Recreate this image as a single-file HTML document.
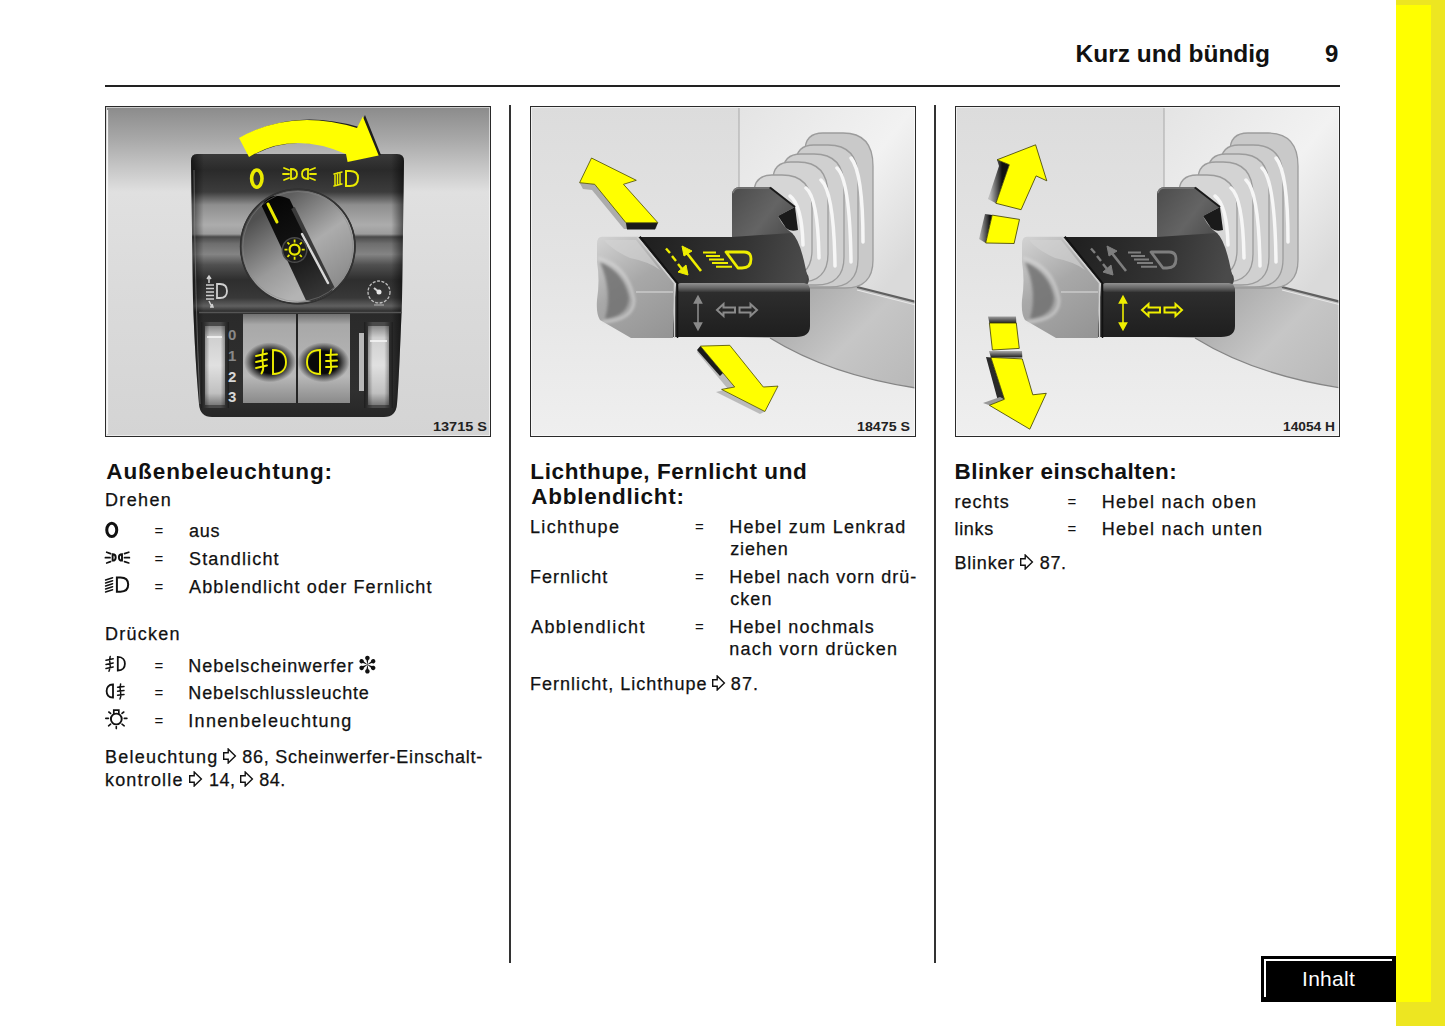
<!DOCTYPE html>
<html><head><meta charset="utf-8">
<style>
html,body{margin:0;padding:0;background:#fff;}
body{width:1445px;height:1026px;position:relative;overflow:hidden;font-family:"Liberation Sans",sans-serif;color:#111;}
.a{position:absolute;white-space:nowrap;}
.t{-webkit-text-stroke:0.25px #111;font-size:18px;letter-spacing:1.3px;line-height:22px;}
.h{font-size:22.5px;font-weight:bold;letter-spacing:0.8px;line-height:26px;}
.eq{font-size:15px;line-height:22px;}
.img{position:absolute;display:block;overflow:hidden;}
.ar{display:inline-block;vertical-align:-1px;}
.fr{position:absolute;border:1.5px solid #2a2a2a;box-sizing:border-box;box-shadow:inset 0 0 0 1px rgba(255,255,255,0.55);}
.vr{position:absolute;width:2px;background:#333;}
</style></head><body>
<div class="a" style="left:1396px;top:0;width:49px;height:1026px;background:#ede621"></div>
<div class="a" style="left:1396px;top:5px;width:35px;height:997px;background:#ffff00"></div>
<div class="a" style="left:1075.5px;top:40px;font-size:24.5px;font-weight:bold;line-height:28px;letter-spacing:0px">Kurz und bündig</div>
<div class="a" style="left:1325px;top:40px;font-size:24px;font-weight:bold;line-height:28px;">9</div>
<div class="a" style="left:105px;top:85px;width:1235px;height:1.5px;background:#222"></div>
<div class="vr" style="left:509px;top:105px;height:858px"></div>
<div class="vr" style="left:934px;top:105px;height:858px"></div>
<svg class="img" style="left:105px;top:106px" width="386" height="331" viewBox="105 106 386 331">
<defs>
 <linearGradient id="bg1" gradientUnits="userSpaceOnUse" x1="0" y1="106" x2="0" y2="437">
  <stop offset="0" stop-color="#8a8a8a"/>
  <stop offset="0.10" stop-color="#a8a8a8"/>
  <stop offset="0.26" stop-color="#e0e0e0"/>
  <stop offset="0.60" stop-color="#dadada"/>
  <stop offset="1" stop-color="#d4d4d4"/>
 </linearGradient>
 <linearGradient id="pan1" gradientUnits="userSpaceOnUse" x1="0" y1="154" x2="0" y2="418">
  <stop offset="0" stop-color="#3a3a3a"/>
  <stop offset="0.06" stop-color="#2a2a2a"/>
  <stop offset="0.144" stop-color="#3c3c3c"/>
  <stop offset="0.193" stop-color="#8e8e8e"/>
  <stop offset="0.269" stop-color="#acacac"/>
  <stop offset="0.303" stop-color="#9c9c9c"/>
  <stop offset="0.314" stop-color="#4a4a4a"/>
  <stop offset="0.34" stop-color="#6e6e6e"/>
  <stop offset="0.38" stop-color="#848484"/>
  <stop offset="0.42" stop-color="#505050"/>
  <stop offset="0.477" stop-color="#2e2e2e"/>
  <stop offset="0.545" stop-color="#383838"/>
  <stop offset="0.576" stop-color="#606060"/>
  <stop offset="0.598" stop-color="#2a2a2a"/>
  <stop offset="0.9" stop-color="#303030"/>
  <stop offset="1" stop-color="#262626"/>
 </linearGradient>
 <linearGradient id="cyl1" x1="0" y1="0" x2="1" y2="0">
  <stop offset="0" stop-color="#000" stop-opacity="0.6"/>
  <stop offset="0.3" stop-color="#000" stop-opacity="0"/>
  <stop offset="0.7" stop-color="#000" stop-opacity="0"/>
  <stop offset="1" stop-color="#000" stop-opacity="0.6"/>
 </linearGradient>
 <linearGradient id="pedge1" gradientUnits="userSpaceOnUse" x1="191" y1="0" x2="404" y2="0">
  <stop offset="0" stop-color="#000" stop-opacity="0.55"/>
  <stop offset="0.06" stop-color="#000" stop-opacity="0"/>
  <stop offset="0.94" stop-color="#000" stop-opacity="0"/>
  <stop offset="1" stop-color="#000" stop-opacity="0.55"/>
 </linearGradient>
 <linearGradient id="kUR" gradientUnits="userSpaceOnUse" x1="290" y1="195" x2="350" y2="280">
  <stop offset="0" stop-color="#5e5e5e"/>
  <stop offset="0.5" stop-color="#acacac"/>
  <stop offset="1" stop-color="#8a8a8a"/>
 </linearGradient>
 <linearGradient id="kLL" gradientUnits="userSpaceOnUse" x1="240" y1="230" x2="290" y2="300">
  <stop offset="0" stop-color="#505050"/>
  <stop offset="0.6" stop-color="#9a9a9a"/>
  <stop offset="1" stop-color="#b4b4b4"/>
 </linearGradient>
 <linearGradient id="slot1" gradientUnits="userSpaceOnUse" x1="270" y1="200" x2="325" y2="300">
  <stop offset="0" stop-color="#050505"/>
  <stop offset="0.5" stop-color="#151515"/>
  <stop offset="1" stop-color="#3a3a3a"/>
 </linearGradient>
 <linearGradient id="btn1" gradientUnits="userSpaceOnUse" x1="0" y1="314" x2="0" y2="403">
  <stop offset="0" stop-color="#707070"/>
  <stop offset="0.12" stop-color="#a8a8a8"/>
  <stop offset="0.7" stop-color="#b8b8b8"/>
  <stop offset="1" stop-color="#8a8a8a"/>
 </linearGradient>
 <linearGradient id="whl1" gradientUnits="userSpaceOnUse" x1="0" y1="326" x2="0" y2="405">
  <stop offset="0" stop-color="#8a8a8a"/>
  <stop offset="0.15" stop-color="#d0d0d0"/>
  <stop offset="0.5" stop-color="#e0e0e0"/>
  <stop offset="0.85" stop-color="#c0c0c0"/>
  <stop offset="1" stop-color="#7a7a7a"/>
 </linearGradient>
 <radialGradient id="oval1">
  <stop offset="0.55" stop-color="#080808"/>
  <stop offset="1" stop-color="#080808" stop-opacity="0"/>
 </radialGradient>
 <clipPath id="kclip"><circle cx="297.8" cy="246.5" r="56.5"/></clipPath>
</defs>
<rect x="105" y="106" width="386" height="331" fill="url(#bg1)"/>
<line x1="107.5" y1="110" x2="107.5" y2="434" stroke="#f4f4f4" stroke-width="1.2"/>
<!-- panel -->
<path d="M197,154 H397 Q404,154 404,161 L402,300 Q399,380 397,404 Q396,417 384,417 H212 Q200,417 199,404 Q195,360 193,300 L191,161 Q191,154 197,154 Z" fill="url(#pan1)"/>
<path d="M197,154 H397 Q404,154 404,161 L402,300 Q399,380 397,404 Q396,417 384,417 H212 Q200,417 199,404 Q195,360 193,300 L191,161 Q191,154 197,154 Z" fill="url(#pedge1)"/>
<path d="M194,170 Q195,300 200,404" fill="none" stroke="#888" stroke-width="1" opacity="0.6"/>
<!-- yellow arc arrow -->
<path d="M242,137 Q294,108 359,127 L365,115 L381,155 L349,161 L349,153 Q297,131 251,156 Z" fill="#1e1e1e"/>
<path d="M239,138 Q292,108 357,128 L362.8,116.4 L378.7,155.6 L347.6,162 L346,154 Q292.5,130.5 249,157 Z" fill="#ffff00"/>
<!-- top symbols -->
<ellipse cx="256.8" cy="178.6" rx="5.2" ry="8.6" fill="none" stroke="#eaea00" stroke-width="3.6"/>
<g stroke="#eaea00" stroke-width="1.8" fill="none" stroke-linecap="round">
 <path d="M284,168 L289,170 M283,174 L289,174 M284,180 L289,178"/>
 <path d="M291,169 Q297,169 297,174 Q297,179 291,179 Z"/>
 <path d="M308,169 Q302,169 302,174 Q302,179 308,179 Z"/>
 <path d="M310,170 L315,168 M310,174 L316,174 M310,178 L315,180"/>
 <path d="M346,171 H350 Q358,171 358,178 Q358,186 350,186 H346 Z" stroke-width="2"/>
 <path d="M334,174 L342,172 M334,186 L342,184 M335,185 V174 M337.5,185 V173 M340,184 V172.5" stroke-width="1.5"/>
</g>
<!-- knob -->
<circle cx="297.8" cy="246.5" r="58" fill="#2e2e2e"/>
<g clip-path="url(#kclip)">
 <rect x="230" y="180" width="140" height="140" fill="url(#kUR)"/>
 <path d="M230,200 L261.7,205.9 L306,300.3 L230,320 Z" fill="url(#kLL)"/>
 <path d="M261.7,205.9 Q268,190 289.5,198.9 L332.6,286.4 Q334,305 306,300.3 Z" fill="url(#slot1)"/>
 <path d="M293,208 L333,289" stroke="#3a3a3a" stroke-width="4"/>
 <path d="M302,234 L328,283" stroke="#d8d8d8" stroke-width="2.5" stroke-linecap="round"/>
 <circle cx="294.6" cy="250" r="13" fill="#4a4a4a"/>
 <circle cx="294.6" cy="250" r="11.5" fill="#1c1c1c"/>
</g>
<circle cx="297.8" cy="246.5" r="57" fill="none" stroke="#333" stroke-width="1.5"/>
<circle cx="297.8" cy="246.5" r="55" fill="none" stroke="#888" stroke-width="0.8" opacity="0.6"/>
<path d="M268,204 L277,222" stroke="#eaea00" stroke-width="3" stroke-linecap="round"/>
<g stroke="#e8e800" fill="none">
 <circle cx="294.6" cy="249.6" r="5" fill="#111" stroke-width="2.2"/>
 <path d="M294.6,239.5 v3 M294.6,256.7 v3 M284.5,249.6 h3 M301.7,249.6 h3 M287.4,242.4 l2,2 M299.8,254.8 l2,2 M287.4,256.8 l2,-2 M299.8,244.4 l2,-2" stroke-width="1.8"/>
</g>
<!-- side symbols -->
<g stroke="#d0d0d0" stroke-width="1.5" fill="none">
 <path d="M217,284 H220 Q227,284 227,291 Q227,298 220,298 H217 Z" stroke-width="1.8"/>
 <path d="M206,285 h8 M206,288.5 h8 M206,292 h8 M206,295.5 h8 M206,299 h8" stroke-width="1.6"/>
 <path d="M209,283 v-7 M207,279 l2,-3 l2,3 M209,301 l3,6 M210,307 l3,0 l-1,-3" />
 <circle cx="379" cy="292" r="11" stroke="#c0c0c0" stroke-width="1.3" stroke-dasharray="3 1.5"/>
 <path d="M379,292 l-5,-4" stroke="#d0d0d0" stroke-width="2"/>
 <circle cx="379" cy="292" r="2.5" fill="#e8e8e8" stroke="none"/>
 <path d="M374,305 h10" stroke="#888" stroke-width="2"/>
</g>
<!-- lower section -->
<path d="M199,312.5 H402" stroke="#555" stroke-width="1.5"/>
<rect x="243" y="314" width="53" height="89" fill="url(#btn1)"/>
<rect x="298" y="314" width="52" height="89" fill="url(#btn1)"/>
<line x1="297" y1="314" x2="297" y2="403" stroke="#222" stroke-width="1.5"/>
<ellipse cx="270" cy="362.3" rx="26" ry="20" fill="url(#oval1)"/>
<ellipse cx="323.5" cy="362.3" rx="26" ry="20" fill="url(#oval1)"/>
<g stroke="#eeee00" stroke-width="1.9" fill="none" stroke-linecap="round">
 <path d="M273,350 C282,350 286,355 286,362 C286,369 282,374 273,374 Z"/>
 <path d="M256,356 l11,-2.5 M256,362 l11,-2.5 M256,368 l11,-2.5 M263,349.5 q-1.5,8 0,16 q1,4 -1.5,8"/>
 <path d="M320,350 C311,350 307,355 307,362 C307,369 311,374 320,374 Z"/>
 <path d="M326,355 l11,-0.5 M326,361 l11,-0.5 M326,367 l11,-0.5 M331,349.5 q-1,8 0,16 q1,4 -1.5,8"/>
</g>
<rect x="201" y="322" width="28" height="86" fill="#4a4a4a"/>
<rect x="364" y="322" width="29" height="86" fill="#4a4a4a"/>
<rect x="205" y="326" width="20" height="79" fill="url(#whl1)"/>
<rect x="368" y="326" width="21" height="79" fill="url(#whl1)"/>
<rect x="201" y="322" width="28" height="86" fill="url(#cyl1)"/>
<rect x="364" y="322" width="29" height="86" fill="url(#cyl1)"/>
<rect x="359" y="333" width="5" height="58" fill="#b8b8b8"/>
<line x1="207" y1="337" x2="222" y2="337" stroke="#f8f8f8" stroke-width="1.5"/>
<line x1="370" y1="341" x2="387" y2="341" stroke="#f8f8f8" stroke-width="1.5"/>
<g font-family="Liberation Sans" font-weight="bold" font-size="15" fill="#d8d8d8">
 <text x="228" y="340" fill="#888">0</text>
 <text x="228" y="361" fill="#888">1</text>
 <text x="228" y="382">2</text>
 <text x="228" y="402">3</text>
</g>
<!-- label -->
<text x="433" y="431" font-family="Liberation Sans" font-weight="bold" font-size="13" fill="#222" textLength="54" lengthAdjust="spacingAndGlyphs">13715 S</text>
</svg>

<svg class="img" style="left:530px;top:106px" width="386" height="331" viewBox="530 106 386 331">
<defs>
 <linearGradient id="bg2" gradientUnits="userSpaceOnUse" x1="0" y1="106" x2="0" y2="437">
  <stop offset="0" stop-color="#dcdcdc"/>
  <stop offset="0.5" stop-color="#e4e4e4"/>
  <stop offset="1" stop-color="#efefef"/>
 </linearGradient>
 <linearGradient id="bgr2" gradientUnits="userSpaceOnUse" x1="739" y1="106" x2="916" y2="250">
  <stop offset="0" stop-color="#e4e4e4"/>
  <stop offset="0.6" stop-color="#f2f2f2"/>
  <stop offset="1" stop-color="#dadada"/>
 </linearGradient>
 <linearGradient id="shr2" gradientUnits="userSpaceOnUse" x1="800" y1="290" x2="900" y2="390">
  <stop offset="0" stop-color="#aaaaaa"/>
  <stop offset="0.5" stop-color="#c6c6c6"/>
  <stop offset="1" stop-color="#bababa"/>
 </linearGradient>
 <linearGradient id="top2" gradientUnits="userSpaceOnUse" x1="650" y1="240" x2="800" y2="280">
  <stop offset="0" stop-color="#202020"/>
  <stop offset="0.6" stop-color="#343434"/>
  <stop offset="1" stop-color="#4a4a4a"/>
 </linearGradient>
 <linearGradient id="tab2" gradientUnits="userSpaceOnUse" x1="735" y1="190" x2="800" y2="240">
  <stop offset="0" stop-color="#4e4e4e"/>
  <stop offset="0.5" stop-color="#646464"/>
  <stop offset="1" stop-color="#444444"/>
 </linearGradient>
 <linearGradient id="fr2" gradientUnits="userSpaceOnUse" x1="0" y1="290" x2="0" y2="338">
  <stop offset="0" stop-color="#2e2e2e"/>
  <stop offset="1" stop-color="#1e1e1e"/>
 </linearGradient>
 <linearGradient id="rdg2" gradientUnits="userSpaceOnUse" x1="0" y1="282" x2="0" y2="293">
  <stop offset="0" stop-color="#9a9a9a"/>
  <stop offset="0.5" stop-color="#6a6a6a"/>
  <stop offset="1" stop-color="#2a2a2a"/>
 </linearGradient>
 <linearGradient id="cap2" gradientUnits="userSpaceOnUse" x1="600" y1="240" x2="665" y2="340">
  <stop offset="0" stop-color="#d0d0d0"/>
  <stop offset="0.45" stop-color="#a8a8a8"/>
  <stop offset="1" stop-color="#949494"/>
 </linearGradient>
 <linearGradient id="hol2" gradientUnits="userSpaceOnUse" x1="600" y1="0" x2="640" y2="0">
  <stop offset="0" stop-color="#6a6a6a"/>
  <stop offset="1" stop-color="#a8a8a8" stop-opacity="0"/>
 </linearGradient>
 <filter id="blur2" x="-20%" y="-20%" width="140%" height="140%"><feGaussianBlur stdDeviation="1.6"/></filter>
 <g id="lvbase">
  <rect x="530" y="106" width="386" height="331" fill="url(#bg2)"/>
  <rect x="739" y="106" width="177" height="200" fill="url(#bgr2)"/>
  <line x1="739" y1="108" x2="739" y2="240" stroke="#a8a8a8" stroke-width="1"/>
  <!-- shroud lower -->
  <path d="M740,280 L857,287 L916,302 V388 Q830,375 770,338 L740,337 Z" fill="url(#shr2)"/>
  <path d="M770,338 Q830,375 916,388" fill="none" stroke="#858585" stroke-width="1.3"/>
  <path d="M857,287 L916,302" stroke="#606060" stroke-width="2.2"/>
  <path d="M857,290 L916,305" stroke="#e8e8e8" stroke-width="1.2"/>
  <!-- boot rings back to front -->
  <g stroke="#9c9c9c" stroke-width="1.3">
   <path d="M805,288 V151 Q805,133 823,133 H843 Q873,133 873,166 V260 Q873,288 845,288 Z" fill="#c9c9c9"/>
   <path d="M796,287 V163 Q796,145 814,145 H828 Q858,145 858,178 V259 Q858,287 830,287 Z" fill="#cdcdcd"/>
   <path d="M783,285 V172 Q783,154 801,154 H814 Q844,154 844,187 V257 Q844,285 816,285 Z" fill="#d0d0d0"/>
   <path d="M773,282 V180 Q773,162 791,162 H798 Q828,162 828,195 V254 Q828,282 800,282 Z" fill="#d3d3d3"/>
   <path d="M754,278 V193 Q754,175 772,175 H782 Q812,175 812,208 V250 Q812,278 784,278 Z" fill="#d6d6d6"/>
  </g>
  <g stroke="#f6f6f6" stroke-width="3.5" fill="none" stroke-linecap="round">
   <path d="M790,196 Q802,205 803,245"/>
   <path d="M806,188 Q818,198 819,258"/>
   <path d="M821,180 Q834,192 835,266"/>
   <path d="M837,168 Q850,180 851,262"/>
   <path d="M851,158 Q863,172 863,242"/>
  </g>
  <!-- lever tab -->
  <path d="M732,238 V195 Q732,187 740,187 H770 L795,207 L778,216 Q784,228 792,233 L806,272 Q812,280 806,286 H690 Z" fill="url(#tab2)"/>
  <path d="M733,193 Q734,188 740,188 H769" stroke="#7a7a7a" stroke-width="1.5" fill="none"/>
  <path d="M770,187.5 L795,207" stroke="#1a1a1a" stroke-width="2" fill="none"/>
  <path d="M778,216 L795,207 L798,230 Q790,232 786,228 Z" fill="#1a1a1a"/>
  <!-- top face -->
  <path d="M638,237 H732 L792,233 Q800,240 806,270 Q810,284 800,286 H678 Z" fill="url(#top2)"/>
  <!-- front face -->
  <path d="M676,284 H802 Q810,284 810,292 V326 Q810,337 796,337 H672 Z" fill="url(#fr2)"/>
  <path d="M681,283 H804 Q810,284 810,290 V292 H681 Q677,292 677,287.5 Q677,283 681,283 Z" fill="url(#rdg2)"/>
  <!-- end cap -->
  <path d="M602,236.8 H637 L674.5,283 L673,338 H631 L600,320 Q596,314 597,300 Q600,280 597,262 L597,244 Q597,236.8 602,236.8 Z" fill="url(#cap2)"/>
  <path d="M604,240 H636 L660,270 Q650,262 630,258 Q612,250 604,240 Z" fill="#d4d4d4" opacity="0.6"/>
  <g filter="url(#blur2)">
  <path d="M600,262 Q624,272 629,298 Q628,316 605,319 Q613,292 600,262 Z" fill="#6e6e6e" opacity="0.8"/>
  <path d="M598,258 Q628,266 634,300 Q634,320 602,322" stroke="#dcdcdc" stroke-width="2.5" fill="none" opacity="0.7"/>
  </g>
  <path d="M636,292 H673" stroke="#c8c8c8" stroke-width="2" opacity="0.8"/>
  <path d="M637,236.8 L674.5,283 V338" stroke="#cfcfcf" stroke-width="1.5" fill="none"/>
  <path d="M640,236.5 L677.5,283 V338" stroke="#111" stroke-width="1.5" fill="none"/>
 </g>
</defs>
<use href="#lvbase"/>
<!-- up-left arrow -->
<path d="M579.6,182.7 L594.7,184.3 L625.9,222.7 L657.9,222.7 L656,229 L624,229 L592,190 L583,189 Z" fill="#888" opacity="0.6"/>
<path d="M625.9,222.7 L657.9,222.7 L655,229.5 L627,229.5 Z" fill="#1a1a1a"/>
<path d="M591.5,158 L579.6,182.7 L594.7,184.3 L625.9,222.7 L657.9,222.7 L623.5,184.3 L636.3,180.3 Z" fill="#ffff00" stroke="#4a4a00" stroke-width="0.8"/>
<!-- down-right arrow -->
<path d="M700.4,346.1 L734.7,387 L721.6,389.4 L764.9,411.5 L760,414 L716,392 L728,389 L697,352 Z" fill="#999" opacity="0.6"/>
<path d="M700.4,346.1 L723,373 L720,376 L697,350 Z" fill="#1a1a1a"/>
<path d="M700.4,346.1 L729.8,345.3 L763.3,387 L778,386.1 L764.9,411.5 L721.6,389.4 L734.7,387 Z" fill="#ffff00" stroke="#4a4a00" stroke-width="0.8"/>
<defs>
 <g id="symTop" fill="none" stroke-linecap="butt">
  <path d="M666,248.5 L670,253 M672,256 L676,261 M678,264 L682,269" stroke-width="2.4"/>
  <path d="M678,272 L688,275 L686,265 Z" fill="currentColor" stroke-width="1"/>
  <path d="M701,271 L686,252" stroke-width="2.6"/>
  <path d="M682,246 L684,256 L692,251 Z" fill="currentColor" stroke-width="1"/>
  <path d="M703,252.6 H716 M706,256 H720 M709,259.5 H724 M712,263 H728 M716,266.8 H732" stroke-width="2"/>
  <path d="M726,252 H744 Q751,252 751,259 Q751,268 742,268 H738 Z" stroke-width="2.8" stroke-linejoin="round"/>
 </g>
 <g id="symFr" fill="none" stroke-width="1.6">
  <path d="M698,299 V327"/>
  <path d="M694.5,303 L698,296.5 L701.5,303 Z M694.5,323 L698,329.5 L701.5,323 Z" fill="currentColor"/>
  <path d="M717,310 L723.5,304 V307.5 H735 V312.5 H723.5 V316 Z" stroke-width="2"/>
  <path d="M757,310 L750.5,304 V307.5 H739.5 V312.5 H750.5 V316 Z" stroke-width="2"/>
 </g>
</defs>
<use href="#symTop" stroke="#eeee00" style="color:#eeee00"/>
<use href="#symFr" stroke="#8a8a8a" style="color:#8a8a8a"/>
<text x="857" y="431" font-family="Liberation Sans" font-weight="bold" font-size="13" fill="#222" textLength="53" lengthAdjust="spacingAndGlyphs">18475 S</text>
</svg>

<svg class="img" style="left:955px;top:106px" width="385" height="331" viewBox="955 106 385 331">
<defs>
 <linearGradient id="sh3a" gradientUnits="userSpaceOnUse" x1="1002" y1="0" x2="990" y2="0">
  <stop offset="0" stop-color="#111"/><stop offset="1" stop-color="#bbb"/>
 </linearGradient>
 <linearGradient id="sh3d" gradientUnits="userSpaceOnUse" x1="990" y1="0" x2="979" y2="0">
  <stop offset="0" stop-color="#111"/><stop offset="1" stop-color="#bbb"/>
 </linearGradient>
 <linearGradient id="sh3b" gradientUnits="userSpaceOnUse" x1="0" y1="324" x2="0" y2="316">
  <stop offset="0" stop-color="#111"/><stop offset="1" stop-color="#aaa"/>
 </linearGradient>
 <linearGradient id="sh3c" gradientUnits="userSpaceOnUse" x1="0" y1="358" x2="0" y2="351">
  <stop offset="0" stop-color="#111"/><stop offset="1" stop-color="#aaa"/>
 </linearGradient>
</defs>
<use href="#lvbase" transform="translate(425 0)"/>
<!-- shadows -->
<path d="M997,159.8 L1009.3,164.7 L995.9,203.3 L988,199 L999,166 Z" fill="url(#sh3a)"/>
<path d="M992.2,215.1 L985.7,243 L979,239 L985,214 Z" fill="url(#sh3d)"/>
<path d="M989.4,323 H1016.3 L1016,316.5 H988 Z" fill="url(#sh3b)"/>
<path d="M990.9,357.4 H1022.3 L1022,351 H989 Z" fill="url(#sh3c)"/>
<path d="M990.9,357.4 L1004.4,399.3 L998,401 L986,357 Z" fill="#2a2a2a"/>
<path d="M989.4,405.3 L1004.4,399.3 L1000,397 L983,403 Z" fill="#999"/>
<g fill="#ffff00" stroke="#3a3a00" stroke-width="0.8">
 <path d="M1035.6,144.8 L1046.8,180.8 L1036.1,175.9 L1021.1,209.7 L995.9,203.3 L1009.3,164.7 L997,159.8 Z"/>
 <path d="M992.2,215.1 L1019.5,219.4 L1014.1,243.5 L985.7,243 Z"/>
 <path d="M989.4,323 L1016.3,323 L1019.3,348.4 L992.4,350 Z"/>
 <path d="M990.9,357.4 L1022.3,358.9 L1032.8,394.8 L1046.3,393.3 L1029.8,429.2 L989.4,405.3 L1004.4,399.3 Z"/>
</g>
<g transform="translate(425 0)">
 <use href="#symTop" stroke="#7e7e7e" style="color:#7e7e7e"/>
 <use href="#symFr" stroke="#eeee00" style="color:#eeee00"/>
</g>
<text x="1283" y="431" font-family="Liberation Sans" font-weight="bold" font-size="13" fill="#222" textLength="52" lengthAdjust="spacingAndGlyphs">14054 H</text>
</svg>

<div class="fr" style="left:105px;top:106px;width:386px;height:331px"></div>
<div class="fr" style="left:530px;top:106px;width:386px;height:331px"></div>
<div class="fr" style="left:955px;top:106px;width:385px;height:331px"></div>
<div class="a h" style="left:106.3px;top:459.0px;letter-spacing:0.91px">Außenbeleuchtung:</div>
<div class="a t" style="left:105.0px;top:488.6px;letter-spacing:1.35px">Drehen</div>
<div class="a t" style="left:188.9px;top:520.0px;letter-spacing:0.84px">aus</div>
<div class="a t" style="left:189.0px;top:548.0px;letter-spacing:1.17px">Standlicht</div>
<div class="a t" style="left:189.0px;top:575.5px;letter-spacing:1.13px">Abblendlicht oder Fernlicht</div>
<div class="a t" style="left:105.0px;top:623.3px;letter-spacing:1.25px">Drücken</div>
<div class="a t" style="left:188.3px;top:654.7px;letter-spacing:1.00px">Nebelscheinwerfer</div>
<div class="a t" style="left:188.3px;top:682.1px;letter-spacing:0.86px">Nebelschlussleuchte</div>
<div class="a t" style="left:188.3px;top:709.5px;letter-spacing:1.32px">Innenbeleuchtung</div>
<div class="a t" style="left:105.0px;top:746.4px;letter-spacing:1.22px">Beleuchtung</div>
<div class="a t" style="left:242.2px;top:746.4px;letter-spacing:0.77px">86, Scheinwerfer-Einschalt-</div>
<div class="a t" style="left:105.0px;top:768.7px;letter-spacing:1.18px">kontrolle</div>
<div class="a t" style="left:208.9px;top:768.7px;letter-spacing:0.54px">14,</div>
<div class="a t" style="left:259.3px;top:768.7px;letter-spacing:0.44px">84.</div>
<div class="a h" style="left:530.3px;top:459.1px;letter-spacing:0.61px">Lichthupe, Fernlicht und</div>
<div class="a h" style="left:531.3px;top:484.0px;letter-spacing:0.75px">Abblendlicht:</div>
<div class="a t" style="left:530.0px;top:515.7px;letter-spacing:1.36px">Lichthupe</div>
<div class="a t" style="left:729.2px;top:515.7px;letter-spacing:1.25px">Hebel zum Lenkrad</div>
<div class="a t" style="left:730.2px;top:538.3px;letter-spacing:0.91px">ziehen</div>
<div class="a t" style="left:530.0px;top:565.9px;letter-spacing:1.02px">Fernlicht</div>
<div class="a t" style="left:729.2px;top:565.9px;letter-spacing:1.00px">Hebel nach vorn drü-</div>
<div class="a t" style="left:730.2px;top:588.3px;letter-spacing:1.06px">cken</div>
<div class="a t" style="left:531.0px;top:616.4px;letter-spacing:1.40px">Abblendlicht</div>
<div class="a t" style="left:729.2px;top:616.4px;letter-spacing:1.19px">Hebel nochmals</div>
<div class="a t" style="left:729.2px;top:637.9px;letter-spacing:1.23px">nach vorn drücken</div>
<div class="a t" style="left:530.0px;top:673.0px;letter-spacing:1.02px">Fernlicht, Lichthupe</div>
<div class="a t" style="left:730.8px;top:673.0px;letter-spacing:1.09px">87.</div>
<div class="a h" style="left:954.5px;top:458.7px;letter-spacing:0.44px">Blinker einschalten:</div>
<div class="a t" style="left:954.5px;top:491.1px;letter-spacing:1.04px">rechts</div>
<div class="a t" style="left:1101.8px;top:491.1px;letter-spacing:1.29px">Hebel nach oben</div>
<div class="a t" style="left:954.5px;top:517.7px;letter-spacing:0.67px">links</div>
<div class="a t" style="left:1101.8px;top:517.7px;letter-spacing:1.27px">Hebel nach unten</div>
<div class="a t" style="left:954.5px;top:552.0px;letter-spacing:0.78px">Blinker</div>
<div class="a t" style="left:1039.7px;top:552.0px;letter-spacing:0.69px">87.</div>
<div class="a eq" style="left:154.5px;top:520.0px">=</div>
<div class="a eq" style="left:154.5px;top:548.0px">=</div>
<div class="a eq" style="left:154.5px;top:575.5px">=</div>
<div class="a eq" style="left:154.5px;top:654.7px">=</div>
<div class="a eq" style="left:154.5px;top:682.1px">=</div>
<div class="a eq" style="left:154.5px;top:709.5px">=</div>
<div class="a eq" style="left:695px;top:515.7px">=</div>
<div class="a eq" style="left:695px;top:565.9px">=</div>
<div class="a eq" style="left:695px;top:616.4px">=</div>
<div class="a eq" style="left:1067.5px;top:491.1px">=</div>
<div class="a eq" style="left:1067.5px;top:517.7px">=</div>
<svg class="img" style="left:223.2px;top:748.2px" width="14" height="16" viewBox="0 0 14 16"><path d="M0.7,4.7 H5.2 V1 L12.4,8 L5.2,15 V11.3 H0.7 Z" fill="none" stroke="#111" stroke-width="1.4"/></svg>
<svg class="img" style="left:188.9px;top:770.5px" width="14" height="16" viewBox="0 0 14 16"><path d="M0.7,4.7 H5.2 V1 L12.4,8 L5.2,15 V11.3 H0.7 Z" fill="none" stroke="#111" stroke-width="1.4"/></svg>
<svg class="img" style="left:240.2px;top:770.5px" width="14" height="16" viewBox="0 0 14 16"><path d="M0.7,4.7 H5.2 V1 L12.4,8 L5.2,15 V11.3 H0.7 Z" fill="none" stroke="#111" stroke-width="1.4"/></svg>
<svg class="img" style="left:712.4px;top:674.8px" width="14" height="16" viewBox="0 0 14 16"><path d="M0.7,4.7 H5.2 V1 L12.4,8 L5.2,15 V11.3 H0.7 Z" fill="none" stroke="#111" stroke-width="1.4"/></svg>
<svg class="img" style="left:1020.4px;top:553.8px" width="14" height="16" viewBox="0 0 14 16"><path d="M0.7,4.7 H5.2 V1 L12.4,8 L5.2,15 V11.3 H0.7 Z" fill="none" stroke="#111" stroke-width="1.4"/></svg>
<svg class="img" style="left:103px;top:520px" width="18" height="20" viewBox="103 520 18 20"><ellipse cx="111.75" cy="529.9" rx="5.0" ry="6.6" fill="none" stroke="#111" stroke-width="3"/></svg>
<svg class="img" style="left:104px;top:550px" width="28" height="16" viewBox="104 550 28 16">
 <g stroke="#111" stroke-width="1.7" fill="none" stroke-linecap="round">
  <path d="M106.7,552.2 L110.5,553.6 M105.4,557.7 H110 M106.7,563 L110.5,561.6"/>
  <path d="M112.6,554.2 C115.6,554.2 115.7,556 115.7,557.4 C115.7,558.8 115.6,560.6 112.6,560.6 Z" stroke-width="1.9"/>
  <path d="M122,554.2 C119,554.2 118.9,556 118.9,557.4 C118.9,558.8 119,560.6 122,560.6 Z" stroke-width="1.9"/>
  <path d="M124.5,553.6 L128.8,552.2 M124.5,557.7 H129.4 M124.5,561.6 L128.8,563"/>
 </g>
</svg>
<svg class="img" style="left:104px;top:575px" width="28" height="20" viewBox="104 575 28 20">
 <g stroke="#111" fill="none" stroke-linecap="round">
  <path d="M116.9,577.6 H120.5 Q128.2,577.6 128.2,584.6 Q128.2,591.7 120.5,591.7 H116.9 Z" stroke-width="2"/>
  <path d="M105.6,580 L112.6,577.8 M105.6,583 L112.6,580.8 M105.6,586 L112.6,583.8 M105.6,589 L112.6,586.8 M105.6,592 L112.6,589.8" stroke-width="1.5"/>
 </g>
</svg>
<svg class="img" style="left:104px;top:654px" width="24" height="20" viewBox="104 654 24 20">
 <g stroke="#111" fill="none" stroke-linecap="round">
  <path d="M117.8,656.9 C123,656.9 124.9,660.5 124.9,663.7 C124.9,667 123,670.5 117.8,670.5 Z" stroke-width="1.8"/>
  <path d="M106,660.3 L113.2,658.8 M106,664.4 L113.2,662.9 M106,668.5 L113.2,667 M110.2,656.5 Q109,660 110,663 Q111,667 109,671.3" stroke-width="1.5"/>
 </g>
</svg>
<svg class="img" style="left:104px;top:682px" width="22" height="19" viewBox="104 682 22 19">
 <g stroke="#111" fill="none" stroke-linecap="round">
  <path d="M113,684.5 C108.3,684.5 106.6,688 106.6,691.1 C106.6,694.3 108.3,697.7 113,697.7 Z" stroke-width="1.8"/>
  <path d="M117.6,687.2 L124,686.6 M117.6,691.2 L124,690.6 M117.6,695.2 L124,694.6 M120.6,684 Q119.6,688 120.6,692 Q121.4,696 120,699" stroke-width="1.5"/>
 </g>
</svg>
<svg class="img" style="left:104px;top:707px" width="26" height="24" viewBox="104 707 26 24">
 <g stroke="#111" fill="none" stroke-linecap="round">
  <circle cx="116.3" cy="719" r="5.4" stroke-width="1.9"/>
  <path d="M113.8,713.8 V710.2 H118.8 V713.8" stroke-width="1.7"/>
  <path d="M105.8,718.4 H108.4 M124.3,718.4 H126.9 M116.3,726.6 V728.6 M108.8,712 L110.6,713.4 M122,713.4 L123.8,712 M108.6,725.8 L110.6,724.2 M122,724.2 L124.2,725.8" stroke-width="1.6"/>
 </g>
</svg>
<svg class="img" style="left:358px;top:655px" width="19" height="19" viewBox="358 655 19 19">
 <g fill="#111" transform="translate(367.4 664.6)">
  <path id="pet" d="M0,0.3 L-0.9,-4.6 A2.25,2.25 0 1 1 0.9,-4.6 Z"/>
  <use href="#pet" transform="rotate(60)"/><use href="#pet" transform="rotate(120)"/><use href="#pet" transform="rotate(180)"/><use href="#pet" transform="rotate(240)"/><use href="#pet" transform="rotate(300)"/>
 </g>
</svg>

<div class="a" style="left:1261px;top:956px;width:135px;height:46px;background:#000"></div>
<div class="a" style="left:1264px;top:959px;width:2px;height:38px;background:#fff"></div>
<div class="a" style="left:1264px;top:959px;width:128px;height:2px;background:#fff"></div>
<div class="a" style="left:1302px;top:966px;font-size:21px;line-height:26px;color:#fff;letter-spacing:0.3px">Inhalt</div>
</body></html>
